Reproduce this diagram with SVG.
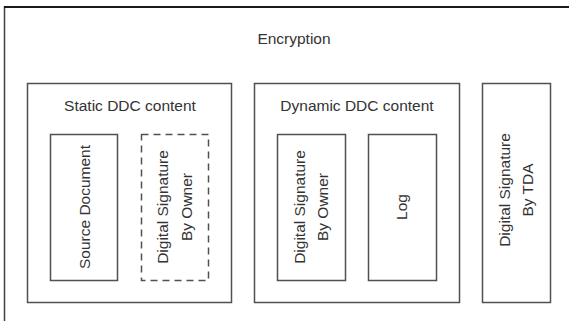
<svg xmlns="http://www.w3.org/2000/svg" width="569" height="321" viewBox="0 0 569 321">
  <style>
    .box { fill: #ffffff; stroke: #505050; stroke-width: 1.5; }
    .dash { stroke-dasharray: 7 5; }
    .label { font-family: "Liberation Sans", Arial, sans-serif; font-size: 15.5px; fill: #333333; text-anchor: middle; }
  </style>
  <rect width="569" height="321" fill="#ffffff"/>

  <!-- outer encryption envelope, open to the right and bottom -->
  <g id="encryption">
    <rect class="box" x="4.5" y="7" width="620" height="360" style="stroke:#404040"/>
    <line x1="4" y1="7" x2="569" y2="7" stroke="#1a1a1a" stroke-width="2"/>
    <text class="label" x="294" y="44">Encryption</text>
  </g>

  <!-- static part -->
  <g id="static-content">
    <rect class="box" x="27.5" y="83.5" width="204" height="219"/>
    <text class="label" x="130" y="111">Static DDC content</text>
  </g>
  <g id="source-document">
    <rect class="box" x="50.5" y="134.5" width="67" height="146"/>
    <text class="label" transform="translate(89.5 207) rotate(-90)">Source Document</text>
  </g>
  <g id="signature-owner-static">
    <rect class="box dash" x="141.5" y="134.5" width="67" height="146"/>
    <text class="label" transform="translate(168 207) rotate(-90)">Digital Signature</text>
    <text class="label" transform="translate(191.5 207) rotate(-90)">By Owner</text>
  </g>

  <!-- dynamic part -->
  <g id="dynamic-content">
    <rect class="box" x="254.5" y="83.5" width="205" height="219"/>
    <text class="label" x="357" y="111">Dynamic DDC content</text>
  </g>
  <g id="signature-owner-dynamic">
    <rect class="box" x="277.5" y="134.5" width="68" height="146"/>
    <text class="label" transform="translate(304.5 207) rotate(-90)">Digital Signature</text>
    <text class="label" transform="translate(327.5 207) rotate(-90)">By Owner</text>
  </g>
  <g id="log">
    <rect class="box" x="368.5" y="134.5" width="68" height="146"/>
    <text class="label" transform="translate(407 207) rotate(-90)">Log</text>
  </g>

  <!-- trusted authority signature -->
  <g id="signature-tda">
    <rect class="box" x="482.5" y="83.5" width="68" height="219"/>
    <text class="label" transform="translate(509.5 190) rotate(-90)">Digital Signature</text>
    <text class="label" transform="translate(532.5 190) rotate(-90)">By TDA</text>
  </g>
</svg>
